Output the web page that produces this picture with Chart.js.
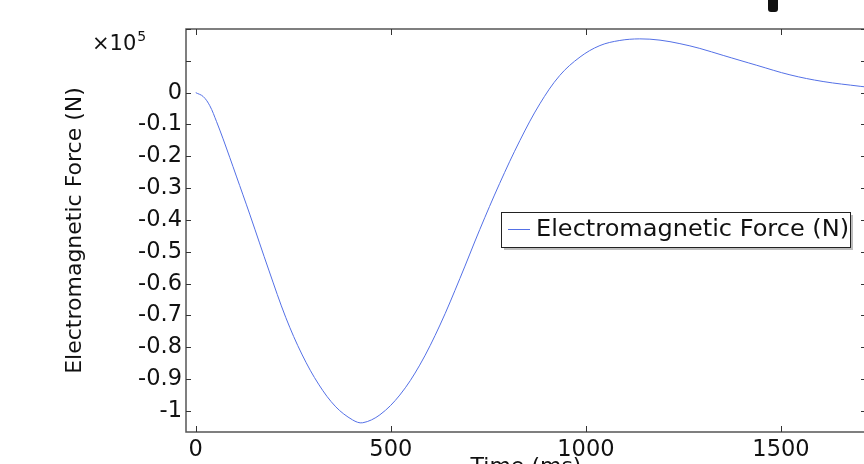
<!DOCTYPE html>
<html>
<head>
<meta charset="utf-8">
<script src="https://cdn.jsdelivr.net/npm/chart.js@4.4.1/dist/chart.umd.min.js"></script>
<style>
html,body{margin:0;padding:0;background:#fff;overflow:hidden}
#wrap{width:864px;height:464px;overflow:hidden;position:relative}
canvas{display:block}
</style>
</head>
<body>
<div id="wrap"><canvas id="grafico" width="880" height="490"></canvas></div>
<script>
// time (ms) and force (x1e5 N)
let timeMs=[0,19,36,53,70,87,104,121,139,188,231,273,316,359,402,428,472,523,574,626,677,728,779,831,882,933,985,1036,1087,1138,1190,1241,1292,1352,1438,1523,1608,1703,1725]
let forceE5=[0,-0.012,-0.041,-0.09,-0.145,-0.203,-0.262,-0.321,-0.384,-0.56,-0.707,-0.824,-0.918,-0.987,-1.028,-1.037,-1.012,-0.95,-0.856,-0.73,-0.584,-0.43,-0.285,-0.15,-0.035,0.054,0.112,0.148,0.164,0.169,0.165,0.154,0.139,0.117,0.086,0.056,0.035,0.02,0.017]
let xTicks=[0,500,1000,1500]
let yTicks=[-1,-0.9,-0.8,-0.7,-0.6,-0.5,-0.4,-0.3,-0.2,-0.1,0,0.1,0.2]
let serieNome='Electromagnetic Force (N)'
let eixoX='Time (ms)'
let eixoY='Electromagnetic Force (N)'

let corLinha='#5470e6'
let corEixo='#555'
let fonte='"DejaVu Sans", sans-serif'

let moldura={
id:'moldura',
afterDraw(chart){
let ctx=chart.ctx
let a=chart.chartArea
let sx=chart.scales.x
let sy=chart.scales.y
ctx.save()
ctx.strokeStyle=corEixo
ctx.lineWidth=1.5
ctx.strokeRect(a.left,a.top,a.right-a.left,a.bottom-a.top)
ctx.lineWidth=1
ctx.strokeStyle='#333'
ctx.beginPath()
xTicks.forEach(v=>{
let px=Math.round(sx.getPixelForValue(v))+0.5
ctx.moveTo(px,a.bottom);ctx.lineTo(px,a.bottom-6)
ctx.moveTo(px,a.top);ctx.lineTo(px,a.top+6)
})
yTicks.forEach(v=>{
let py=Math.round(sy.getPixelForValue(v))+0.5
ctx.moveTo(a.left,py);ctx.lineTo(a.left+5,py)
ctx.moveTo(a.right,py);ctx.lineTo(a.right-5,py)
})
ctx.stroke()

// x10^5 multiplier
ctx.fillStyle='#111'
ctx.textBaseline='alphabetic'
ctx.textAlign='left'
ctx.font='21px '+fonte
ctx.fillText('\u00d710',92,50)
let w=ctx.measureText('\u00d710').width
ctx.font='14px '+fonte
ctx.fillText('5',92+w+1,41)

// legend box
let lx=501,ly=212,lw=349,lh=35
ctx.fillStyle='#bdbdbd'
ctx.fillRect(lx+3,ly+3,lw,lh)
ctx.fillStyle='#fff'
ctx.fillRect(lx,ly,lw,lh)
ctx.strokeStyle='#222'
ctx.lineWidth=1
ctx.strokeRect(lx+0.5,ly+0.5,lw,lh)
ctx.strokeStyle=corLinha
ctx.beginPath()
ctx.moveTo(lx+7,ly+17.5);ctx.lineTo(lx+29,ly+17.5)
ctx.stroke()
ctx.fillStyle='#111'
ctx.font='22.5px '+fonte
ctx.textBaseline='middle'
ctx.translate(lx+35,ly+18)
ctx.scale(1.068,1)
ctx.fillText(chart.data.datasets[0].label,0,0)
ctx.setTransform(1,0,0,1,0,0)

// dark mark at the top edge
ctx.fillStyle='#111'
ctx.beginPath()
ctx.roundRect(768,-6,10,18,3)
ctx.fill()
ctx.restore()
}
}

let pontos=timeMs.map((t,i)=>({x:t,y:forceE5[i]}))

new Chart(document.getElementById('grafico'),{
type:'line',
data:{
datasets:[{
label:serieNome,
data:pontos,
borderColor:corLinha,
borderWidth:1,
pointRadius:0,
fill:false,
tension:0.35
}]
},
options:{
responsive:false,
animation:false,
layout:{padding:{top:29,right:14,left:0,bottom:0}},
plugins:{legend:{display:false},tooltip:{enabled:false}},
scales:{
x:{
type:'linear',
min:-25,
max:1718,
afterBuildTicks:s=>{s.ticks=xTicks.map(v=>({value:v}))},
afterFit:s=>{s.height=58},
grid:{display:false,drawTicks:false},
border:{display:false},
ticks:{color:'#111',font:{family:fonte,size:22.5},padding:5,maxRotation:0,callback:v=>String(v)},
title:{display:true,text:eixoX,color:'#111',font:{family:fonte,size:22},padding:{top:0,bottom:10}}
},
y:{
min:-1.066,
max:0.2,
afterBuildTicks:s=>{s.ticks=yTicks.map(v=>({value:v}))},
afterFit:s=>{s.width=186},
grid:{display:false,drawTicks:false},
border:{display:false},
ticks:{color:'#111',font:{family:fonte,size:22.5},padding:4,
callback:v=>v>0.001?'':(Math.abs(v)<1e-9?'0':String(+v.toFixed(1)))},
title:{display:true,text:eixoY,color:'#111',font:{family:fonte,size:22},padding:{top:62,bottom:0}}
}
}
},
plugins:[moldura]
})
</script>
</body>
</html>
